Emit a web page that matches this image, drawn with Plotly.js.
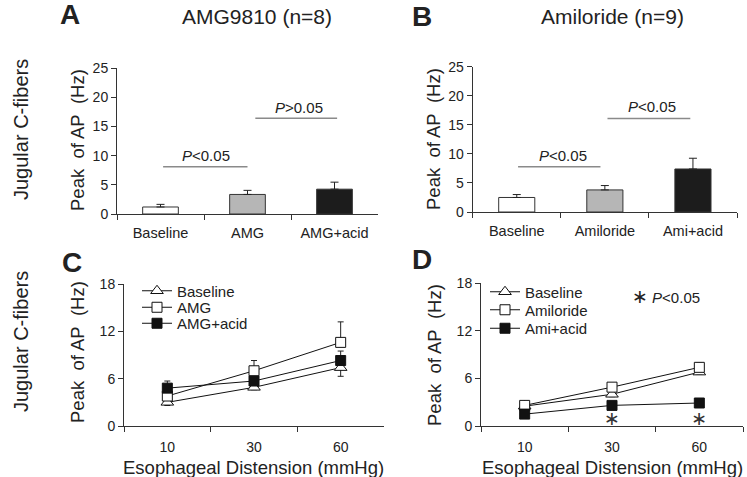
<!DOCTYPE html>
<html><head><meta charset="utf-8">
<script src="https://cdn.plot.ly/plotly-3.0.1.min.js"></script>
<style>html,body{margin:0;padding:0;background:#fff}#chart{width:747px;height:477px}</style>
</head><body><div id="chart"></div>
<script>
// ---- data ----
const barCatsA = ["Baseline", "AMG", "AMG+acid"];
const barValsA = [1.2, 3.35, 4.25];
const barErrA = [0.45, 0.7, 1.2];
const barCatsB = ["Baseline", "Amiloride", "Ami+acid"];
const barValsB = [2.5, 3.8, 7.4];
const barErrB = [0.5, 0.75, 1.85];
const distension = ["10", "30", "60"];
const cBaseline = [3.0, 4.9, 7.4];
const cBaselineErrMinus = [0.4, 0.3, 1.1];
const cAMG = [3.8, 7.0, 10.6];
const cAMGErr = [0.3, 1.3, 2.6];
const cAMGAcid = [4.8, 5.7, 8.3];
const cAMGAcidErr = [0.9, 0.4, 1.2];
const dBaseline = [2.5, 4.0, 6.8];
const dBaselineErrMinus = [0.2, 0.3, 0.3];
const dAmiloride = [2.6, 4.9, 7.4];
const dAmilorideErr = [0.2, 0.2, 0.6];
const dAmiAcid = [1.5, 2.6, 2.9];
const dAmiAcidErr = [0.2, 0.2, 0.3];
const dStarCats = ["30", "60"];   // distension levels marked with * in D
const dStarY = [0.75, 0.75];
const barColors = ["#ffffff", "#b6b6b6", "#1c1c1c"];

// ---- helpers ----
const W = 747, H = 477;
const px = p => p / W;
const py = p => 1 - p / H;
const FONT = "Liberation Sans, Arial, sans-serif";
const TXT = "#222";
const zeros = n => new Array(n).fill(0);

function barTrace(cats, vals, errs, xa, ya) {
  return {
    type: "bar", x: cats, y: vals, xaxis: xa, yaxis: ya, width: 0.41,
    marker: {color: barColors, line: {color: "#333", width: 1}},
    error_y: {type: "data", symmetric: false, array: errs, arrayminus: zeros(errs.length),
              color: "#222", thickness: 1, width: 4},
    showlegend: false, hoverinfo: "skip"
  };
}
function lineTrace(name, vals, up, down, symbol, fill, xa, ya, leg) {
  return {
    type: "scatter", mode: "lines+markers", name: name, x: distension, y: vals,
    xaxis: xa, yaxis: ya, legend: leg,
    line: {color: "#111", width: 1},
    marker: {symbol: symbol, size: symbol === "triangle-up" ? 11 : 10, color: fill,
             line: {color: "#111", width: 1}},
    error_y: {type: "data", symmetric: false, array: up, arrayminus: down,
              color: "#222", thickness: 1, width: 3},
    hoverinfo: "skip"
  };
}

const traces = [
  barTrace(barCatsA, barValsA, barErrA, "x", "y"),
  barTrace(barCatsB, barValsB, barErrB, "x2", "y2"),
  lineTrace("Baseline", cBaseline, zeros(3), cBaselineErrMinus, "triangle-up", "#fff", "x3", "y3", "legend"),
  lineTrace("AMG", cAMG, cAMGErr, zeros(3), "square", "#fff", "x3", "y3", "legend3"),
  lineTrace("AMG+acid", cAMGAcid, cAMGAcidErr, zeros(3), "square", "#111", "x3", "y3", "legend5"),
  lineTrace("Baseline", dBaseline, zeros(3), dBaselineErrMinus, "triangle-up", "#fff", "x4", "y4", "legend2"),
  lineTrace("Amiloride", dAmiloride, dAmilorideErr, zeros(3), "square", "#fff", "x4", "y4", "legend4"),
  lineTrace("Ami+acid", dAmiAcid, dAmiAcidErr, zeros(3), "square", "#111", "x4", "y4", "legend6"),
  {type: "scatter", mode: "text", x: dStarCats, y: dStarY, text: dStarCats.map(() => "\u2217"),
   textfont: {family: "DejaVu Sans", size: 19, color: "#333"}, textposition: "middle center",
   xaxis: "x4", yaxis: "y4", showlegend: false, hoverinfo: "skip", cliponaxis: false}
];

function xAxis(d, size, standoff) {
  return {domain: d, type: "category", range: [-0.5, 2.5], showline: true, linecolor: "#333",
          linewidth: 1, ticks: "outside", tickson: "boundaries", ticklen: 5, tickcolor: "#333",
          showgrid: false, zeroline: false, tickfont: {family: FONT, size: size, color: TXT},
          ticklabelstandoff: standoff, fixedrange: true, categoryorder: "trace"};
}
function yAxis(d, max, dt, anchor) {
  return {domain: d, range: [0, max], dtick: dt, tick0: 0, showline: true, linecolor: "#333",
          linewidth: 1, ticks: "outside", ticklen: 5, tickcolor: "#333", showgrid: false,
          zeroline: false, anchor: anchor, tickfont: {family: FONT, size: 14, color: TXT},
          fixedrange: true};
}

const ann = [];
function a(text, x, y, size, opts) {
  ann.push(Object.assign({text: text, x: x, y: y, xref: "paper", yref: "paper", showarrow: false,
    xanchor: "center", yanchor: "middle", font: {family: FONT, size: size, color: TXT}}, opts || {}));
}
// panel letters and titles
a("<b>A</b>", px(70), py(15), 28);
a("AMG9810 (n=8)", px(257), py(17), 21);
a("<b>B</b>", px(422), py(16), 28);
a("Amiloride (n=9)", px(612), py(17), 21);
a("<b>C</b>", px(72), py(262), 28);
a("<b>D</b>", px(422), py(259), 28);
// row labels
a("Jugular C-fibers", px(21), py(130), 20, {textangle: -90});
a("Jugular C-fibers", px(21), py(342), 20, {textangle: -90});
// y titles
const yt = "Peak\u00a0 of AP\u00a0 (Hz)";
a(yt, px(77), py(140), 18.5, {textangle: -90});
a(yt, px(433), py(139), 18.5, {textangle: -90});
a(yt, px(77), py(352), 18.5, {textangle: -90});
a(yt, px(434), py(355), 18.5, {textangle: -90});
// x titles
a("Esophageal Distension (mmHg)", px(253), py(467), 18.5);
a("Esophageal Distension (mmHg)", px(612), py(467), 18.5);
// significance text
function sig(text, x, y, xr, yr) {
  ann.push({text: text, x: x, y: y, xref: xr, yref: yr, showarrow: false, xanchor: "center",
            yanchor: "middle", font: {family: FONT, size: 15, color: TXT}});
}
sig("<i>P</i>&lt;0.05", 0.52, 10.1, "x", "y");
sig("<i>P</i>&gt;0.05", 1.59, 18.3, "x", "y");
sig("<i>P</i>&lt;0.05", 0.52, 9.8, "x2", "y2");
sig("<i>P</i>&lt;0.05", 1.54, 18.1, "x2", "y2");
a("<span style='font-family:DejaVu Sans;font-size:19px'>\u2217</span> <i>P</i>&lt;0.05", px(666), py(296), 15);

const shapes = [];
function sline(x0, x1, y, xr, yr) {
  shapes.push({type: "line", x0: x0, x1: x1, y0: y, y1: y, xref: xr, yref: yr,
               line: {color: "#8a8a8a", width: 1.5}});
}
sline(0.03, 1.0, 8.1, "x", "y");
sline(1.09, 2.03, 16.4, "x", "y");
sline(0.015, 0.95, 7.8, "x2", "y2");
sline(1.03, 1.97, 16.1, "x2", "y2");

function leg(xp, yp) {
  return {x: px(xp), y: py(yp), xanchor: "left", yanchor: "middle", bgcolor: "rgba(0,0,0,0)",
          borderwidth: 0, font: {family: FONT, size: 15, color: TXT}, tracegroupgap: 0};
}

const layout = {
  width: W, height: H, margin: {l: 0, r: 0, t: 0, b: 0},
  paper_bgcolor: "#fff", plot_bgcolor: "#fff", font: {family: FONT, color: TXT},
  showlegend: true,
  xaxis: xAxis([px(117), px(378)], 14.5, 6),
  yaxis: yAxis([py(214), py(68)], 25, 5, "x"),
  xaxis2: xAxis([px(472.7), px(737)], 14.5, 6),
  yaxis2: yAxis([py(212), py(66.7)], 25, 5, "x2"),
  xaxis3: xAxis([px(124), px(384)], 14, 8),
  yaxis3: yAxis([py(426), py(284)], 18, 6, "x3"),
  xaxis4: xAxis([px(481), px(743)], 14, 8),
  yaxis4: yAxis([py(426), py(283.3)], 18, 6, "x4"),
  legend: leg(137, 291),
  legend3: leg(137, 307.5),
  legend5: leg(137, 323.5),
  legend2: leg(485, 292),
  legend4: leg(485, 310),
  legend6: leg(485, 328.5),
  annotations: ann, shapes: shapes
};
layout.xaxis.anchor = "y"; layout.xaxis2.anchor = "y2"; layout.xaxis3.anchor = "y3"; layout.xaxis4.anchor = "y4";

Plotly.newPlot("chart", traces, layout, {staticPlot: true, displayModeBar: false});
</script>
</body></html>
